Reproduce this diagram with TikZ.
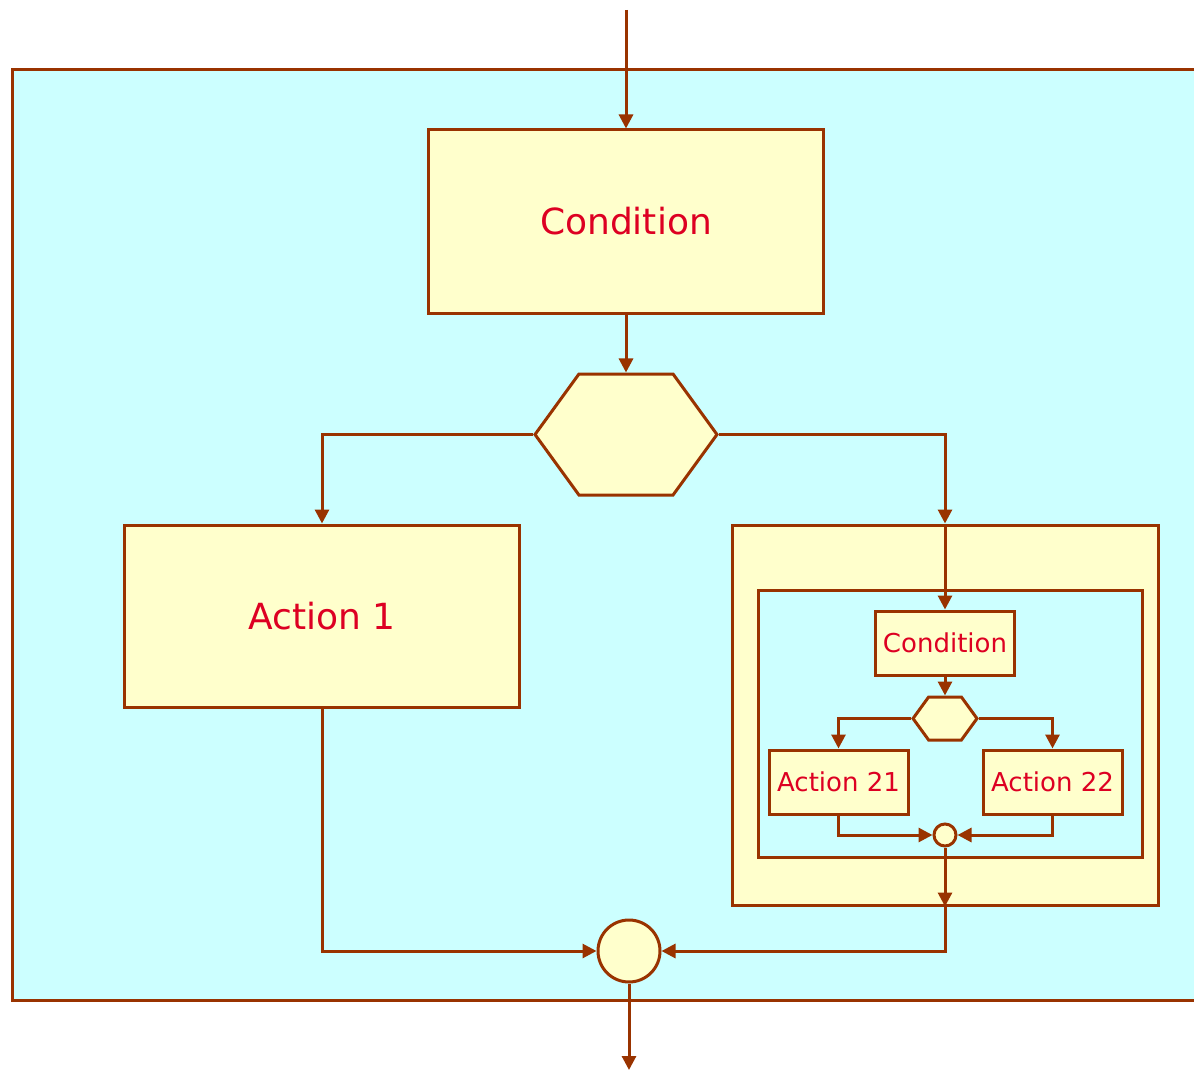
\documentclass[tikz,border=0pt]{standalone}
\usepackage{fontspec}
\setmainfont{DejaVu Sans}
\usetikzlibrary{positioning}
\usetikzlibrary{arrows.meta}
\usetikzlibrary{shapes.symbols}
\definecolor{edge}{RGB}{153,51,0}
\definecolor{sky}{RGB}{204,255,255}
\definecolor{cream}{RGB}{255,255,204}
\definecolor{txt}{RGB}{221,0,34}
\tikzset{>={Triangle[length=7pt,width=7pt]}}
\tikzset{blk/.style={draw=edge, fill=cream, rectangle, inner sep=0pt, text=txt}}
\tikzset{frm/.style={draw=edge, fill=sky, rectangle, inner sep=0pt}}
\tikzset{sel/.style={draw=edge, fill=cream, signal, signal to=west and east, signal pointer angle=108, inner sep=0pt}}
\tikzset{jn/.style={draw=edge, fill=cream, circle, inner sep=0pt}}

\begin{document}
\begin{tikzpicture}[x=0.5pt, y=-0.5pt, line width=1.5pt, draw=edge]
\clip (0,0) rectangle (1194,1070);

%%% The outer part

\node[frm, minimum width=594pt, minimum height=465pt] (whole) at (606,535) {};

\node[blk, minimum width=197.5pt, minimum height=91.5pt, font=\fontsize{18}{20}\selectfont] (cond) at (626,221.5) {Condition};
\node[sel, minimum width=91pt, minimum height=60.5pt] (choice) at (626,434.5) {};
\node[blk, minimum width=197.5pt, minimum height=91pt, font=\fontsize{18}{20}\selectfont] (act1) at (322,616) {Action 1};
\node[blk, minimum width=213pt, minimum height=190pt] (act2) at (945,715) {};
\node[jn, minimum size=31pt] (merge) at (629,951) {};

\coordinate (start) at (626,10);
\coordinate (stop) at (629,1070);

%%% The inner part

\node[frm, minimum width=192pt, minimum height=133.5pt] (inner) at (950,723.5) {};

\node[blk, minimum width=69.5pt, minimum height=32pt, font=\fontsize{13}{15}\selectfont] (cond2) at (945,643) {Condition};
\node[sel, minimum width=32pt, minimum height=21.5pt] (choice2) at (945,718.5) {};
\node[blk, minimum width=69.5pt, minimum height=32pt, font=\fontsize{13}{15}\selectfont] (act21) at (838.5,782) {Action 21};
\node[blk, minimum width=69.5pt, minimum height=32pt, font=\fontsize{13}{15}\selectfont] (act22) at (1052.5,782) {Action 22};
\node[jn, minimum size=11pt] (merge2) at (945,835) {};

%%% Connectors

\draw[->] (start) -- (cond);
\draw[->] (cond) -- (choice);
\draw[->] (choice.west) -| (act1);
\draw[->] (choice.east) -| (act2.north);
\draw[->] (act2.north) -- (cond2);

\draw[->] (cond2) -- (choice2);
\draw[->] (choice2.west) -| (act21);
\draw[->] (choice2.east) -| (act22);
\draw[->] (act21) |- (merge2);
\draw[->] (act22) |- (merge2);
\draw[->] (merge2) -- (act2.south);

\draw[->] (act2.south) |- (merge);
\draw[->] (act1) |- (merge);
\draw[->] (merge) -- (stop);

\end{tikzpicture}
\end{document}
